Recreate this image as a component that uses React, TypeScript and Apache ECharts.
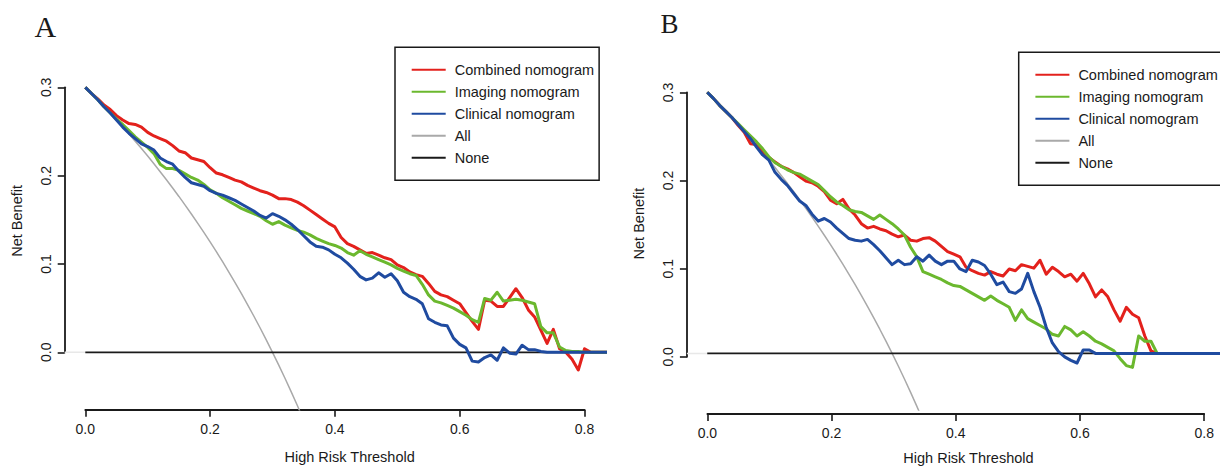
import React, { useEffect, useRef } from "react";
import * as echarts from "echarts";

// ---------- data ----------
const thresholds = [
  0, 0.01, 0.02, 0.03, 0.04, 0.05, 0.06, 0.07, 0.08, 0.09,
  0.1, 0.11, 0.12, 0.13, 0.14, 0.15, 0.16, 0.17, 0.18, 0.19,
  0.2, 0.21, 0.22, 0.23, 0.24, 0.25, 0.26, 0.27, 0.28, 0.29,
  0.3, 0.31, 0.32, 0.33, 0.34, 0.35, 0.36, 0.37, 0.38, 0.39,
  0.4, 0.41, 0.42, 0.43, 0.44, 0.45, 0.46, 0.47, 0.48, 0.49,
  0.5, 0.51, 0.52, 0.53, 0.54, 0.55, 0.56, 0.57, 0.58, 0.59,
  0.6, 0.61, 0.62, 0.63, 0.64, 0.65, 0.66, 0.67, 0.68, 0.69,
  0.7, 0.71, 0.72, 0.73, 0.74, 0.75, 0.76, 0.77, 0.78, 0.79,
  0.8, 0.81, 0.82, 0.83, 0.84,
];

const allThresholds = [
  0, 0.01, 0.02, 0.03, 0.04, 0.05, 0.06, 0.07, 0.08, 0.09,
  0.1, 0.11, 0.12, 0.13, 0.14, 0.15, 0.16, 0.17, 0.18, 0.19,
  0.2, 0.21, 0.22, 0.23, 0.24, 0.25, 0.26, 0.27, 0.28, 0.29,
  0.3, 0.31, 0.32, 0.33, 0.34, 0.35,
];
const allNetBenefit = [
  0.3, 0.2929, 0.2857, 0.2784, 0.2708, 0.2632, 0.2553, 0.2473, 0.2391, 0.2308,
  0.2222, 0.2135, 0.2045, 0.1954, 0.186, 0.1765, 0.1667, 0.1566, 0.1463, 0.1358,
  0.125, 0.1139, 0.1026, 0.0909, 0.0789, 0.0667, 0.0541, 0.0411, 0.0278, 0.0141,
  0, -0.0145, -0.0294, -0.0448, -0.0606, -0.0769,
];
const noneThresholds = [0, 0.84];
const noneNetBenefit = [0, 0];

// Panel A
const aCombined = [
  0.3, 0.293, 0.287, 0.28, 0.275, 0.268, 0.263, 0.259, 0.258, 0.255,
  0.249, 0.245, 0.242, 0.239, 0.234, 0.228, 0.226, 0.22, 0.218, 0.216,
  0.209, 0.203, 0.201, 0.198, 0.195, 0.193, 0.189, 0.186, 0.183, 0.181,
  0.178, 0.174, 0.174, 0.173, 0.17, 0.166, 0.161, 0.156, 0.151, 0.146,
  0.142, 0.13, 0.123, 0.12, 0.116, 0.112, 0.113, 0.11, 0.107, 0.105,
  0.099, 0.096, 0.091, 0.088, 0.086, 0.078, 0.069, 0.065, 0.063, 0.059,
  0.055, 0.045, 0.035, 0.026, 0.059, 0.058, 0.052, 0.052, 0.062, 0.072,
  0.062, 0.048, 0.04, 0.025, 0.01, 0.026, 0.004, 0.0, -0.008, -0.02,
  0.004, 0.0, 0, 0, 0,
];
const aImaging = [
  0.3, 0.293, 0.286, 0.278, 0.271, 0.264, 0.258, 0.251, 0.244, 0.238,
  0.232, 0.225, 0.213, 0.208, 0.208, 0.206, 0.202, 0.198, 0.195, 0.19,
  0.184, 0.18, 0.175, 0.171, 0.167, 0.163, 0.16, 0.157, 0.154, 0.149,
  0.145, 0.148, 0.144, 0.141, 0.138, 0.136, 0.133, 0.129, 0.126, 0.123,
  0.121, 0.118, 0.113, 0.11, 0.115, 0.111, 0.108, 0.105, 0.102, 0.099,
  0.095, 0.092, 0.089, 0.087, 0.077, 0.065, 0.058, 0.056, 0.053, 0.05,
  0.046, 0.042, 0.037, 0.034, 0.061, 0.059, 0.068, 0.058, 0.059, 0.06,
  0.059, 0.057, 0.055, 0.029, 0.022, 0.022, 0.006, 0.002, 0.001, 0.001,
  0, 0, 0, 0, 0,
];
const aClinical = [
  0.3, 0.293, 0.286, 0.278, 0.271, 0.263, 0.255, 0.248, 0.242, 0.236,
  0.233, 0.229, 0.22, 0.216, 0.213, 0.205, 0.198, 0.192, 0.19, 0.188,
  0.183, 0.18, 0.178, 0.175, 0.172, 0.168, 0.164, 0.16, 0.155, 0.152,
  0.157, 0.154, 0.15, 0.145, 0.139, 0.132, 0.125, 0.12, 0.119, 0.116,
  0.111, 0.107, 0.101, 0.094, 0.086, 0.082, 0.084, 0.09, 0.085, 0.089,
  0.081, 0.068, 0.063, 0.06, 0.055, 0.038, 0.034, 0.031, 0.03, 0.016,
  0.009, 0.005, -0.01, -0.011, -0.006, -0.003, -0.009, 0.005, -0.001, -0.002,
  0.008, 0.003, 0.003, 0.001, 0, 0, 0, 0, 0, 0,
  0, 0, 0, 0, 0,
];

// Panel B
const bCombined = [
  0.3, 0.293, 0.285, 0.278, 0.271, 0.262, 0.254, 0.241, 0.24, 0.231,
  0.225, 0.22, 0.215, 0.212, 0.208, 0.203, 0.198, 0.196, 0.192, 0.186,
  0.176, 0.172, 0.177, 0.166, 0.159, 0.149, 0.144, 0.146, 0.143, 0.141,
  0.137, 0.134, 0.136, 0.13, 0.129, 0.132, 0.133, 0.129, 0.123, 0.117,
  0.114, 0.111, 0.099, 0.095, 0.092, 0.09, 0.094, 0.091, 0.089, 0.097,
  0.095, 0.102, 0.1, 0.098, 0.107, 0.091, 0.099, 0.094, 0.088, 0.091,
  0.083, 0.092, 0.08, 0.065, 0.073, 0.065, 0.05, 0.037, 0.053, 0.045,
  0.041, 0.02, 0.003, 0, 0, 0, 0, 0, 0, 0,
  0, 0, 0, 0, 0,
];
const bImaging = [
  0.3, 0.293, 0.285, 0.278, 0.271, 0.264, 0.257, 0.25, 0.243, 0.235,
  0.226, 0.219, 0.215, 0.211, 0.208, 0.206, 0.202, 0.198, 0.194, 0.187,
  0.18, 0.174, 0.17, 0.165, 0.163, 0.162, 0.158, 0.154, 0.159, 0.154,
  0.149, 0.143, 0.136, 0.122, 0.111, 0.094, 0.091, 0.088, 0.085, 0.081,
  0.078, 0.077, 0.073, 0.069, 0.065, 0.061, 0.066, 0.061, 0.057, 0.053,
  0.038, 0.05, 0.04, 0.036, 0.032, 0.028, 0.022, 0.02, 0.031, 0.027,
  0.02, 0.025, 0.02, 0.014, 0.011, 0.007, 0.003, -0.006, -0.014, -0.016,
  0.02, 0.014, 0.014, 0.0, 0, 0, 0, 0, 0, 0,
  0, 0, 0, 0, 0,
];
const bClinical = [
  0.3, 0.293, 0.285, 0.278, 0.271, 0.263, 0.255, 0.247, 0.237, 0.228,
  0.222, 0.208, 0.2, 0.193, 0.184, 0.175, 0.17, 0.16, 0.152, 0.155,
  0.151, 0.144, 0.138, 0.132, 0.13, 0.129, 0.131, 0.125, 0.118, 0.11,
  0.102, 0.107, 0.102, 0.103, 0.111, 0.106, 0.113, 0.106, 0.102, 0.106,
  0.106, 0.097, 0.094, 0.107, 0.105, 0.101, 0.091, 0.079, 0.082, 0.071,
  0.069, 0.074, 0.092, 0.071, 0.053, 0.03, 0.012, 0.002, -0.004, -0.008,
  -0.011, 0.004, 0.004, 0.0, 0, 0, 0, 0, 0, 0,
  0, 0, 0, 0, 0, 0, 0, 0, 0, 0,
  0, 0, 0, 0, 0,
];

const seriesNames = ["Combined nomogram", "Imaging nomogram", "Clinical nomogram", "All", "None"];
const panelLabels = ["A", "B"];
const xTickMin = 0;
const xTickMax = 0.8;
const xTickStep = 0.2;
const yTickMin = 0;
const yTickMax = 0.3;
const yTickStep = 0.1;
const xTitle = "High Risk Threshold";
const yTitle = "Net Benefit";

// ---------- styles / layout ----------
const SANS = "'Liberation Sans', Arial, Helvetica, sans-serif";
const SERIF = "'Liberation Serif', 'Times New Roman', serif";
const INK = "#1a1a1a";
const COLORS = ["#e3211c", "#6bb82e", "#1f4ba0", "#a9a9a9", "#1a1a1a"];
const X_MIN = -0.033;
const X_MAX = 0.832;
const Y_MIN = -0.065;
const Y_MAX = 0.314;

const panels = [
  {
    grid: { left: 64.7, top: 75, width: 539.8, height: 334.7 },
    legend: { left: 395, top: 47.3 },
    label: { x: 34.6, y: 26, size: 30 },
    models: [aCombined, aImaging, aClinical],
  },
  {
    grid: { left: 686.9, top: 80.1, width: 537.2, height: 334 },
    legend: { left: 1018.7, top: 52.3 },
    label: { x: 660.5, y: 23.6, size: 27 },
    models: [bCombined, bImaging, bClinical],
  },
];

function pairs(xs: number[], ys: number[]) {
  return xs.map((x, i) => [x, ys[i]]);
}

const tickLabelStyle = { fontSize: 14, color: INK, fontFamily: SANS };
const axisLineStyle = { color: INK, width: 1.8 };
const tickStyle = { color: INK, width: 1.6 };

function buildOption() {
  const grids: any[] = [];
  const xAxes: any[] = [];
  const yAxes: any[] = [];
  const series: any[] = [];
  const legends: any[] = [];
  const graphics: any[] = [];

  panels.forEach((p, i) => {
    const g = p.grid;
    const px = (v: number) => g.left + ((v - X_MIN) / (X_MAX - X_MIN)) * g.width;
    const py = (v: number) => g.top + ((Y_MAX - v) / (Y_MAX - Y_MIN)) * g.height;
    const mainIdx = grids.length;

    // main plotting grid (data + axis titles)
    grids.push({ ...g, containLabel: false });
    xAxes.push({
      type: "value",
      gridIndex: mainIdx,
      min: X_MIN,
      max: X_MAX,
      axisLine: { show: false, onZero: false },
      axisTick: { show: false },
      axisLabel: { show: false },
      splitLine: { show: false },
      name: xTitle,
      nameLocation: "middle",
      nameGap: 40,
      nameTextStyle: { fontSize: 14.5, color: INK, fontFamily: SANS, padding: [0, 0, 0, 30] },
    });
    yAxes.push({
      type: "value",
      gridIndex: mainIdx,
      min: Y_MIN,
      max: Y_MAX,
      axisLine: { show: false, onZero: false },
      axisTick: { show: false },
      axisLabel: { show: false },
      splitLine: { show: false },
      name: yTitle,
      nameLocation: "middle",
      nameGap: 40,
      nameTextStyle: { fontSize: 14.5, color: INK, fontFamily: SANS, padding: [0, 0, 0, 43] },
    });

    // R-style x axis: spans only 0 .. 0.8 along the bottom of the plot
    const xIdx = grids.length;
    grids.push({ left: px(xTickMin), width: px(xTickMax) - px(xTickMin), top: g.top, height: g.height });
    xAxes.push({
      type: "value",
      gridIndex: xIdx,
      position: "bottom",
      min: xTickMin,
      max: xTickMax,
      interval: xTickStep,
      axisLine: { show: true, onZero: false, lineStyle: axisLineStyle },
      axisTick: { show: true, inside: false, length: 7, lineStyle: tickStyle },
      axisLabel: { ...tickLabelStyle, margin: 12, formatter: (v: number) => v.toFixed(1) },
      splitLine: { show: false },
    });
    yAxes.push({ type: "value", gridIndex: xIdx, show: false, min: 0, max: 1 });

    // R-style y axis: spans only 0 .. 0.3 along the left of the plot
    const yIdx = grids.length;
    grids.push({ left: g.left, width: g.width, top: py(yTickMax), height: py(yTickMin) - py(yTickMax) });
    xAxes.push({ type: "value", gridIndex: yIdx, show: false, min: 0, max: 1 });
    yAxes.push({
      type: "value",
      gridIndex: yIdx,
      position: "left",
      min: yTickMin,
      max: yTickMax,
      interval: yTickStep,
      axisLine: { show: true, onZero: false, lineStyle: axisLineStyle },
      axisTick: { show: true, inside: false, length: 7, lineStyle: tickStyle },
      axisLabel: { ...tickLabelStyle, margin: 12, rotate: 90, formatter: (v: number) => v.toFixed(1) },
      splitLine: { show: false },
    });

    const base = {
      type: "line",
      xAxisIndex: mainIdx,
      yAxisIndex: mainIdx,
      symbol: "none",
      showSymbol: false,
    };

    series.push({
      ...base,
      name: "zero-ref",
      data: [
        [X_MIN, 0],
        [0, 0],
      ],
      lineStyle: { color: "#e8e8e8", width: 1.5 },
      z: 1,
    });
    series.push({
      ...base,
      name: seriesNames[3],
      data: pairs(allThresholds, allNetBenefit),
      lineStyle: { color: COLORS[3], width: 1.5 },
      itemStyle: { color: COLORS[3] },
      z: 2,
    });
    series.push({
      ...base,
      name: seriesNames[4],
      data: pairs(noneThresholds, noneNetBenefit),
      lineStyle: { color: COLORS[4], width: 1.8 },
      itemStyle: { color: COLORS[4] },
      z: 2,
    });
    p.models.forEach((vals, m) => {
      series.push({
        ...base,
        name: seriesNames[m],
        data: pairs(thresholds, vals),
        lineStyle: { color: COLORS[m], width: 3, join: "round" },
        itemStyle: { color: COLORS[m] },
        z: 3 + m,
      });
    });

    legends.push({
      show: true,
      orient: "vertical",
      left: p.legend.left,
      top: p.legend.top,
      data: seriesNames,
      itemWidth: 34,
      itemHeight: 14,
      itemGap: 7,
      padding: [15, 5, 15, 15.7],
      borderColor: INK,
      borderWidth: 1.5,
      backgroundColor: "#ffffff",
      selectedMode: false,
      itemStyle: { opacity: 0, borderWidth: 0 },
      textStyle: { fontSize: 14.5, color: INK, fontFamily: SANS, padding: [0, 0, 0, 4] },
    });

    graphics.push({
      type: "text",
      x: p.label.x,
      y: p.label.y,
      style: {
        text: panelLabels[i],
        fontSize: p.label.size,
        fontFamily: SERIF,
        fill: INK,
        verticalAlign: "middle",
        align: "left",
      },
    });
  });

  return {
    animation: false,
    backgroundColor: "#ffffff",
    grid: grids,
    xAxis: xAxes,
    yAxis: yAxes,
    legend: legends,
    series,
    graphic: graphics,
  };
}

export default function App() {
  const ref = useRef<HTMLDivElement>(null);
  useEffect(() => {
    if (!ref.current) return;
    const chart = echarts.init(ref.current, undefined, { renderer: "svg" });
    chart.setOption(buildOption() as any);
    return () => chart.dispose();
  }, []);
  return (
    <div
      ref={ref}
      style={{ position: "absolute", left: 0, top: 0, width: 1220, height: 470, background: "#fff" }}
    />
  );
}
